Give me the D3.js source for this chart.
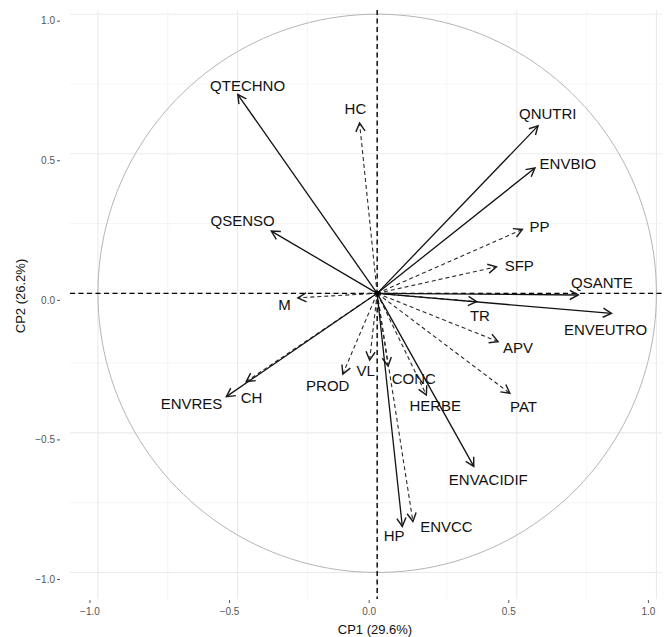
<!DOCTYPE html>
<html>
<head>
<meta charset="utf-8">
<script src="https://cdn.jsdelivr.net/npm/d3@7"></script>
<style>
  body { margin: 0; background: #fff; }
  text { font-family: "Liberation Sans", Arial, sans-serif; }
</style>
</head>
<body>
<svg id="plot" width="667" height="637"></svg>
<script>
// active variables (solid arrows)
var activeVars = ["QTECHNO", "QSENSO", "QNUTRI", "ENVBIO", "QSANTE", "ENVEUTRO", "ENVACIDIF", "HP", "ENVRES"]
var activeCP1 = [-0.499, -0.379, 0.576, 0.565, 0.720, 0.839, 0.346, 0.090, -0.540]
var activeCP2 = [0.712, 0.223, 0.600, 0.449, -0.006, -0.072, -0.620, -0.835, -0.370]
var activeLabX = [-0.464, -0.482, 0.611, 0.683, 0.805, 0.818, 0.398, 0.061, -0.665]
var activeLabY = [0.745, 0.259, 0.643, 0.463, 0.039, -0.130, -0.668, -0.868, -0.396]

// supplementary variables (dashed arrows)
var suppVars = ["HC", "PP", "SFP", "TR", "APV", "PAT", "HERBE", "CONC", "VL", "PROD", "ENVCC", "CH", "M"]
var suppCP1 = [-0.063, 0.520, 0.427, 0.356, 0.433, 0.475, 0.176, 0.039, -0.027, -0.123, 0.128, -0.469, -0.284]
var suppCP2 = [0.610, 0.229, 0.095, -0.030, -0.173, -0.358, -0.364, -0.260, -0.239, -0.289, -0.817, -0.316, -0.016]
var suppLabX = [-0.078, 0.581, 0.509, 0.368, 0.504, 0.524, 0.208, 0.131, -0.041, -0.177, 0.248, -0.450, -0.332]
var suppLabY = [0.662, 0.238, 0.101, -0.079, -0.196, -0.406, -0.403, -0.304, -0.276, -0.332, -0.834, -0.373, -0.040]

var majorTicks = [-1, -0.5, 0, 0.5, 1]
var minorTicks = [-0.75, -0.25, 0.25, 0.75]
var xTitle = "CP1 (29.6%)"
var yTitle = "CP2 (26.2%)"

var pLeft = 70, pRight = 662, pTop = 10, pBottom = 599

var x = d3.scaleLinear().domain([-1.1, 1.02]).range([pLeft, pRight])
var y = d3.scaleLinear().domain([-1.095, 1.015]).range([pBottom, pTop])

// axis labels sit a bit off the grid in the original
var xAx = x.copy().range([pLeft - 8.5, pRight - 8.5])
var yAx = y.copy().range([pBottom + 6.5, pTop + 6.5])

var svg = d3.select("svg#plot")

svg.append("defs").append("marker")
    .attr("id", "head")
    .attr("markerUnits", "userSpaceOnUse")
    .attr("markerWidth", 12).attr("markerHeight", 12)
    .attr("refX", 0).attr("refY", 0)
    .attr("viewBox", "-8 -5 10 10")
    .attr("orient", "auto")
  .append("path")
    .attr("d", "M-7,-3.8 L0,0 L-7,3.8")
    .attr("fill", "none")
    .attr("stroke", "#1a1a1a")
    .attr("stroke-width", 1.2)

var grid = svg.append("g")

grid.selectAll("line.minx").data(minorTicks).enter().append("line")
    .attr("x1", d => x(d)).attr("x2", d => x(d))
    .attr("y1", pTop).attr("y2", pBottom)
    .attr("stroke", "#f3f3f3").attr("stroke-width", 0.8)
grid.selectAll("line.miny").data(minorTicks).enter().append("line")
    .attr("y1", d => y(d)).attr("y2", d => y(d))
    .attr("x1", pLeft).attr("x2", pRight)
    .attr("stroke", "#f3f3f3").attr("stroke-width", 0.8)
grid.selectAll("line.majx").data(majorTicks).enter().append("line")
    .attr("x1", d => x(d)).attr("x2", d => x(d))
    .attr("y1", pTop).attr("y2", pBottom)
    .attr("stroke", "#ebebeb").attr("stroke-width", 1.1)
grid.selectAll("line.majy").data(majorTicks).enter().append("line")
    .attr("y1", d => y(d)).attr("y2", d => y(d))
    .attr("x1", pLeft).attr("x2", pRight)
    .attr("stroke", "#ebebeb").attr("stroke-width", 1.1)

// correlation circle
var circ = d3.range(0, 361, 2).map(a => [Math.cos(a * Math.PI / 180), Math.sin(a * Math.PI / 180)])
svg.append("path")
    .datum(circ)
    .attr("d", d3.line().x(d => x(d[0])).y(d => y(d[1])))
    .attr("fill", "none")
    .attr("stroke", "#b5b5b5")
    .attr("stroke-width", 1)

// dashed zero lines
svg.append("line")
    .attr("x1", pLeft).attr("x2", pRight).attr("y1", y(0)).attr("y2", y(0))
    .attr("stroke", "#000").attr("stroke-width", 1.4).attr("stroke-dasharray", "5,3.5")
svg.append("line")
    .attr("y1", pTop).attr("y2", pBottom).attr("x1", x(0)).attr("x2", x(0))
    .attr("stroke", "#000").attr("stroke-width", 1.4).attr("stroke-dasharray", "5,3.5")

// axes
svg.append("g")
    .attr("transform", "translate(0," + (pBottom + 1) + ")")
    .call(d3.axisBottom(xAx).tickValues(majorTicks).tickFormat(d3.format(".1f")).tickSize(3).tickPadding(5))
svg.append("g")
    .attr("transform", "translate(60,0)")
    .call(d3.axisLeft(yAx).tickValues(majorTicks).tickFormat(d3.format(".1f")).tickSize(3).tickPadding(2))
svg.selectAll(".domain").remove()
svg.selectAll(".tick line").attr("stroke", "#555")
svg.selectAll(".tick text")
    .attr("fill", "#555")
    .attr("font-size", 10)
    .attr("font-family", "Liberation Sans, Arial, sans-serif")

var supp = suppVars.map((v, i) => ({name: v, x: suppCP1[i], y: suppCP2[i], lx: suppLabX[i], ly: suppLabY[i]}))
var act = activeVars.map((v, i) => ({name: v, x: activeCP1[i], y: activeCP2[i], lx: activeLabX[i], ly: activeLabY[i]}))

svg.append("g").selectAll("line").data(supp).enter().append("line")
    .attr("x1", x(0)).attr("y1", y(0))
    .attr("x2", d => x(d.x)).attr("y2", d => y(d.y))
    .attr("stroke", "#2a2a2a")
    .attr("stroke-width", 1.1)
    .attr("stroke-dasharray", "4,3")
    .attr("marker-end", "url(#head)")

svg.append("g").selectAll("line").data(act).enter().append("line")
    .attr("x1", x(0)).attr("y1", y(0))
    .attr("x2", d => x(d.x)).attr("y2", d => y(d.y))
    .attr("stroke", "#111")
    .attr("stroke-width", 1.3)
    .attr("marker-end", "url(#head)")

svg.append("circle")
    .attr("cx", x(0)).attr("cy", y(0)).attr("r", 2.5).attr("fill", "#000")

svg.append("g").selectAll("text").data(act.concat(supp)).enter().append("text")
    .attr("x", d => x(d.lx))
    .attr("y", d => y(d.ly))
    .attr("dy", "0.36em")
    .attr("text-anchor", "middle")
    .attr("font-size", 15)
    .attr("fill", "#111")
    .text(d => d.name)

svg.append("text")
    .attr("x", 375).attr("y", 634)
    .attr("text-anchor", "middle")
    .attr("font-size", 13)
    .attr("fill", "#111")
    .text(xTitle)

svg.append("text")
    .attr("transform", "translate(25,296) rotate(-90)")
    .attr("text-anchor", "middle")
    .attr("font-size", 13)
    .attr("fill", "#111")
    .text(yTitle)
</script>
</body>
</html>
